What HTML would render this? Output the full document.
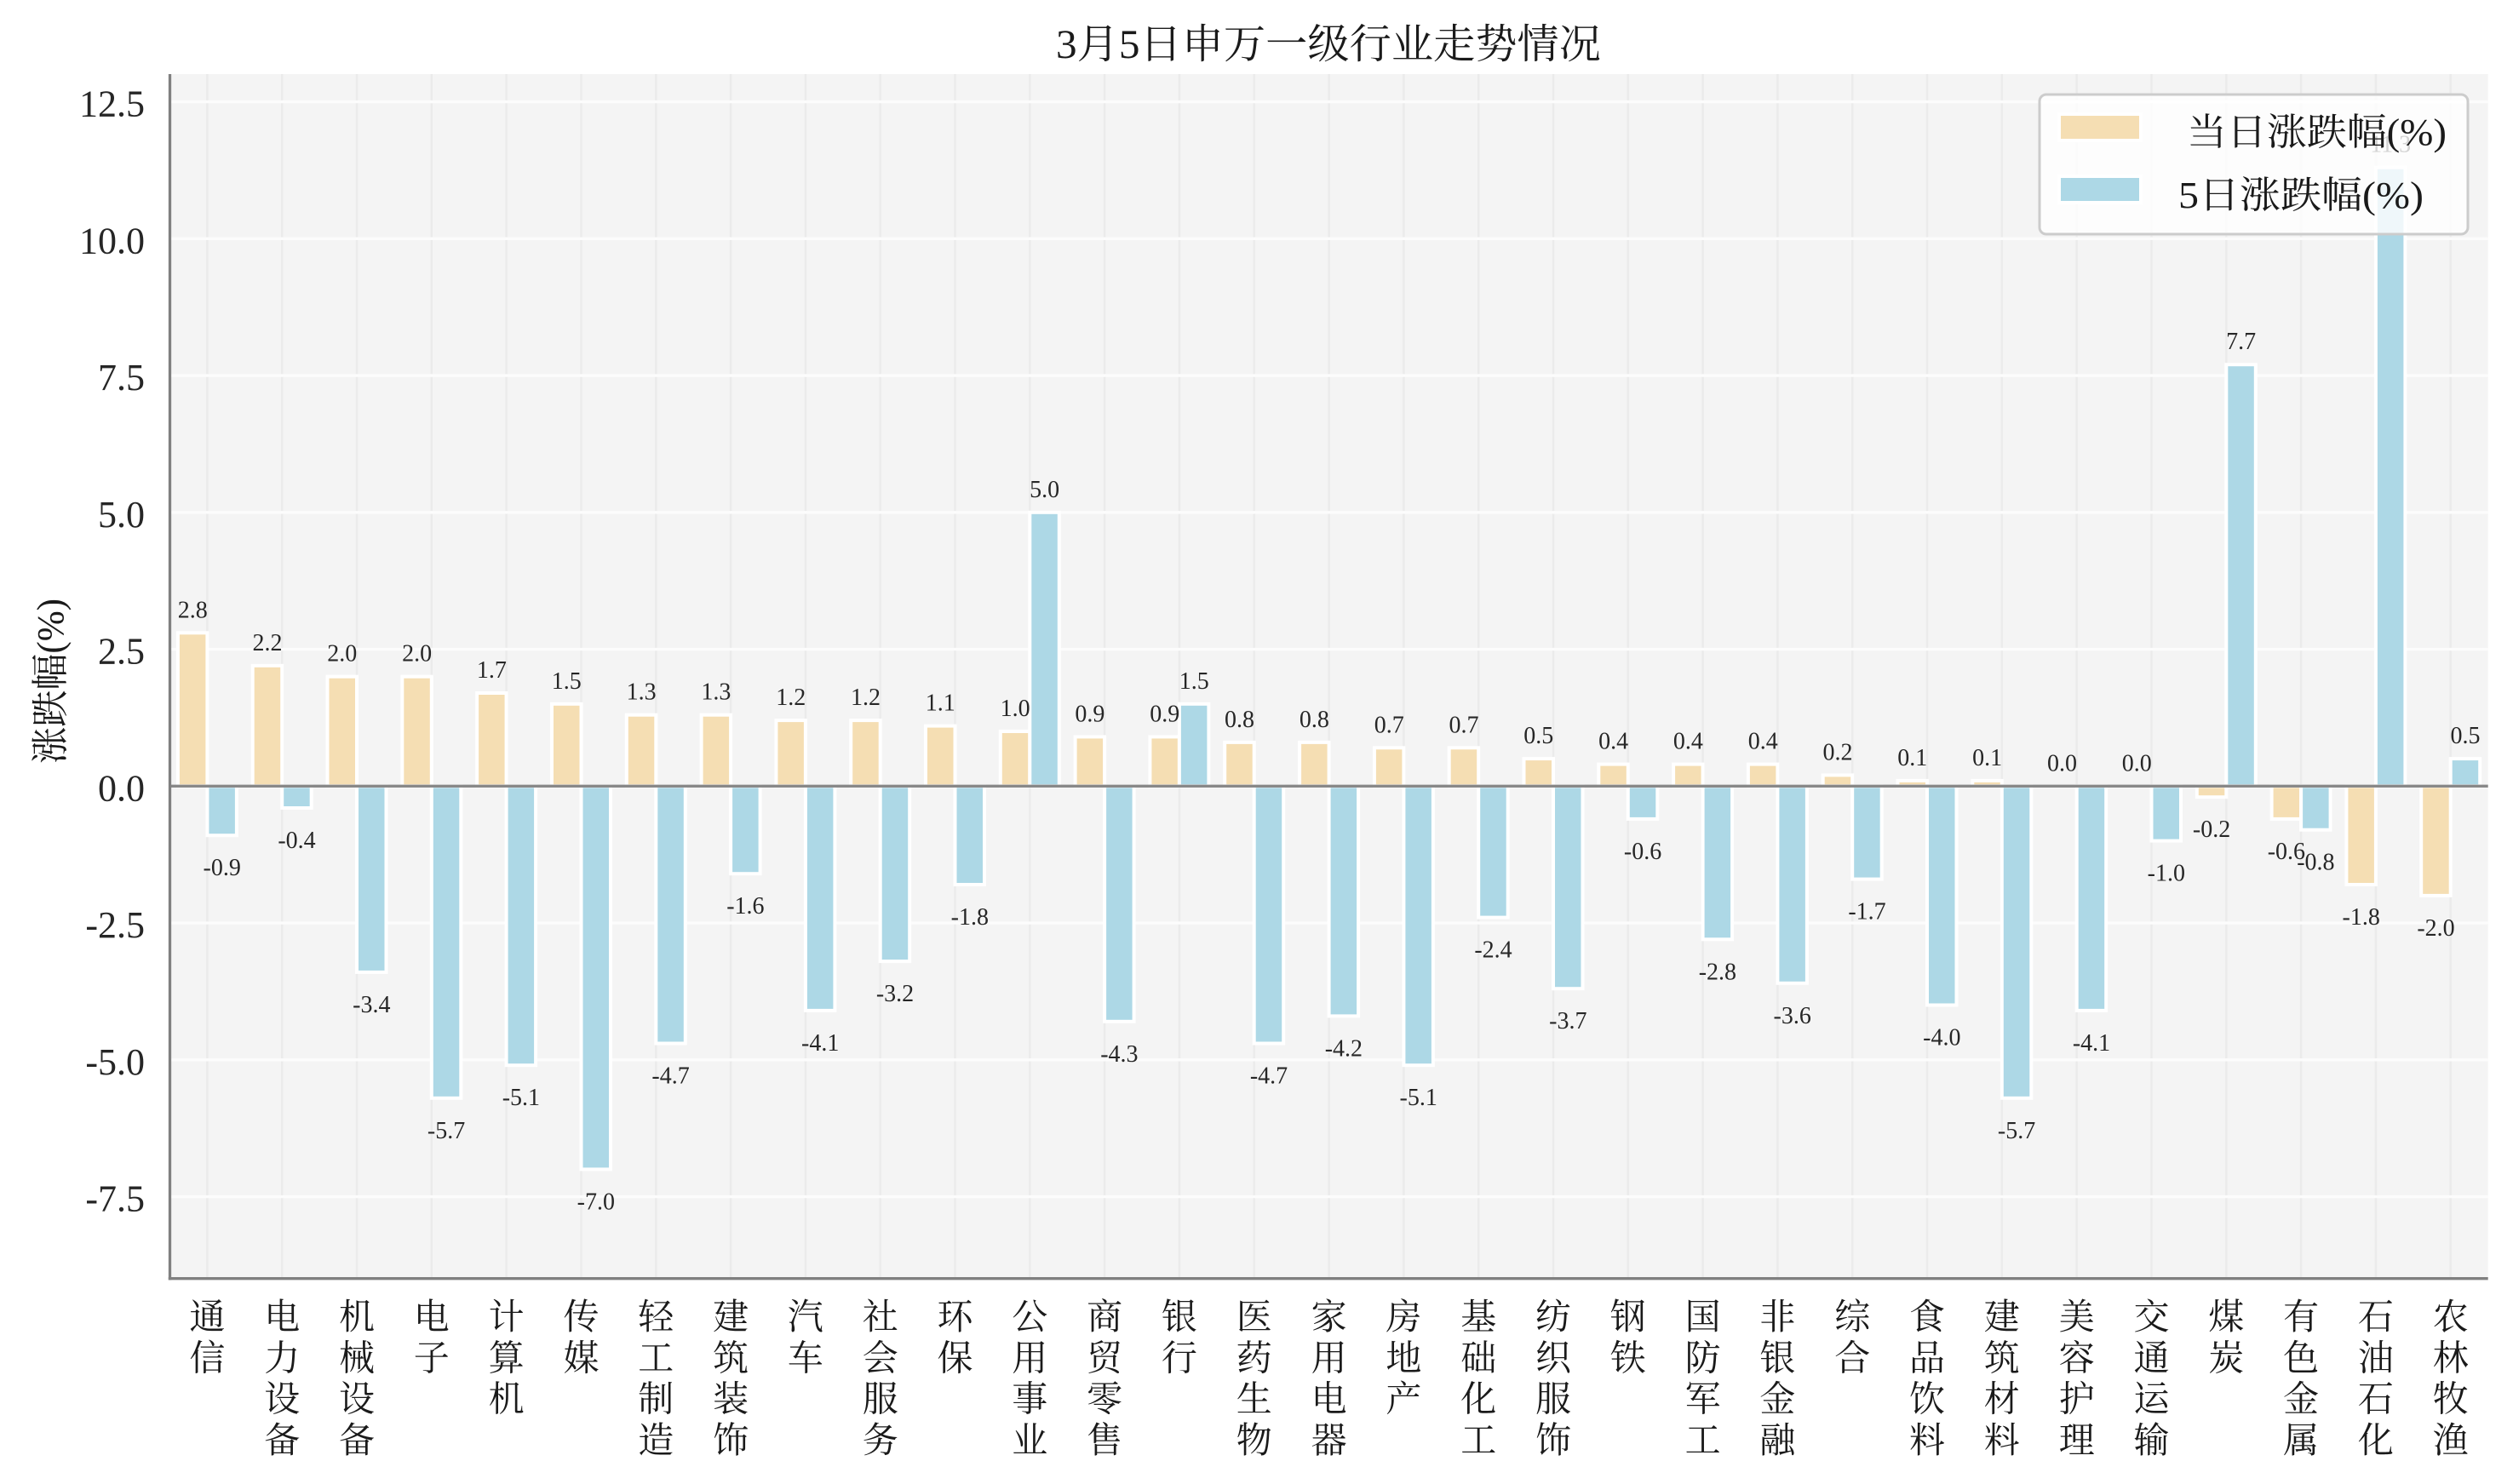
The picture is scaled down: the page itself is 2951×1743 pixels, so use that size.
<!DOCTYPE html>
<html>
<head>
<meta charset="utf-8">
<style>
html,body{margin:0;padding:0;background:#fff;}
svg{display:block;}
.vl{font-family:"Liberation Serif","Noto Serif CJK SC",serif;font-size:28px;fill:#262626;text-anchor:middle;}
.yt{font-family:"Liberation Serif",serif;font-size:44px;fill:#262626;text-anchor:end;}
.xl{font-family:"Liberation Serif","Noto Serif CJK SC",serif;font-size:42px;fill:#1a1a1a;text-anchor:middle;}
.cj{font-family:"Liberation Serif","Noto Serif CJK SC",serif;fill:#1a1a1a;}
</style>
</head>
<body>
<svg width="2951" height="1743" viewBox="0 0 2951 1743" xmlns="http://www.w3.org/2000/svg">
<rect x="0" y="0" width="2951" height="1743" fill="#ffffff"/>
<!-- axes background -->
<rect x="199.5" y="87" width="2722.2" height="1414.7" fill="#f4f4f4"/>
<!-- vertical grid -->
<g stroke="#ebebeb" stroke-width="2.5">
<line x1="243.4" y1="87" x2="243.4" y2="1501.7"/>
<line x1="331.2" y1="87" x2="331.2" y2="1501.7"/>
<line x1="419.0" y1="87" x2="419.0" y2="1501.7"/>
<line x1="506.8" y1="87" x2="506.8" y2="1501.7"/>
<line x1="594.6" y1="87" x2="594.6" y2="1501.7"/>
<line x1="682.5" y1="87" x2="682.5" y2="1501.7"/>
<line x1="770.3" y1="87" x2="770.3" y2="1501.7"/>
<line x1="858.1" y1="87" x2="858.1" y2="1501.7"/>
<line x1="945.9" y1="87" x2="945.9" y2="1501.7"/>
<line x1="1033.7" y1="87" x2="1033.7" y2="1501.7"/>
<line x1="1121.5" y1="87" x2="1121.5" y2="1501.7"/>
<line x1="1209.3" y1="87" x2="1209.3" y2="1501.7"/>
<line x1="1297.1" y1="87" x2="1297.1" y2="1501.7"/>
<line x1="1384.9" y1="87" x2="1384.9" y2="1501.7"/>
<line x1="1472.7" y1="87" x2="1472.7" y2="1501.7"/>
<line x1="1560.6" y1="87" x2="1560.6" y2="1501.7"/>
<line x1="1648.4" y1="87" x2="1648.4" y2="1501.7"/>
<line x1="1736.2" y1="87" x2="1736.2" y2="1501.7"/>
<line x1="1824.0" y1="87" x2="1824.0" y2="1501.7"/>
<line x1="1911.8" y1="87" x2="1911.8" y2="1501.7"/>
<line x1="1999.6" y1="87" x2="1999.6" y2="1501.7"/>
<line x1="2087.4" y1="87" x2="2087.4" y2="1501.7"/>
<line x1="2175.2" y1="87" x2="2175.2" y2="1501.7"/>
<line x1="2263.0" y1="87" x2="2263.0" y2="1501.7"/>
<line x1="2350.8" y1="87" x2="2350.8" y2="1501.7"/>
<line x1="2438.7" y1="87" x2="2438.7" y2="1501.7"/>
<line x1="2526.5" y1="87" x2="2526.5" y2="1501.7"/>
<line x1="2614.3" y1="87" x2="2614.3" y2="1501.7"/>
<line x1="2702.1" y1="87" x2="2702.1" y2="1501.7"/>
<line x1="2789.9" y1="87" x2="2789.9" y2="1501.7"/>
<line x1="2877.7" y1="87" x2="2877.7" y2="1501.7"/>
</g>
<!-- horizontal grid -->
<g stroke="#fcfcfc" stroke-width="3.3">
<line x1="199.5" y1="119.55" x2="2921.7" y2="119.55"/>
<line x1="199.5" y1="280.3" x2="2921.7" y2="280.3"/>
<line x1="199.5" y1="441.05" x2="2921.7" y2="441.05"/>
<line x1="199.5" y1="601.8" x2="2921.7" y2="601.8"/>
<line x1="199.5" y1="762.55" x2="2921.7" y2="762.55"/>
<line x1="199.5" y1="923.3" x2="2921.7" y2="923.3"/>
<line x1="199.5" y1="1084.05" x2="2921.7" y2="1084.05"/>
<line x1="199.5" y1="1244.8" x2="2921.7" y2="1244.8"/>
<line x1="199.5" y1="1405.55" x2="2921.7" y2="1405.55"/>
</g>
<!-- yellow bars (当日) -->
<g fill="#f5deb3" stroke="#ffffff" stroke-width="4">
<rect x="208.9" y="743.3" width="34.5" height="180.0"/>
<rect x="296.7" y="781.8" width="34.5" height="141.5"/>
<rect x="384.5" y="794.7" width="34.5" height="128.6"/>
<rect x="472.3" y="794.7" width="34.5" height="128.6"/>
<rect x="560.1" y="814.0" width="34.5" height="109.3"/>
<rect x="648.0" y="826.8" width="34.5" height="96.5"/>
<rect x="735.8" y="839.7" width="34.5" height="83.6"/>
<rect x="823.6" y="839.7" width="34.5" height="83.6"/>
<rect x="911.4" y="846.1" width="34.5" height="77.2"/>
<rect x="999.2" y="846.1" width="34.5" height="77.2"/>
<rect x="1087.0" y="852.6" width="34.5" height="70.7"/>
<rect x="1174.8" y="859.0" width="34.5" height="64.3"/>
<rect x="1262.6" y="865.4" width="34.5" height="57.9"/>
<rect x="1350.4" y="865.4" width="34.5" height="57.9"/>
<rect x="1438.2" y="871.9" width="34.5" height="51.4"/>
<rect x="1526.1" y="871.9" width="34.5" height="51.4"/>
<rect x="1613.9" y="878.3" width="34.5" height="45.0"/>
<rect x="1701.7" y="878.3" width="34.5" height="45.0"/>
<rect x="1789.5" y="891.1" width="34.5" height="32.2"/>
<rect x="1877.3" y="897.6" width="34.5" height="25.7"/>
<rect x="1965.1" y="897.6" width="34.5" height="25.7"/>
<rect x="2052.9" y="897.6" width="34.5" height="25.7"/>
<rect x="2140.7" y="910.4" width="34.5" height="12.9"/>
<rect x="2228.5" y="916.9" width="34.5" height="6.4"/>
<rect x="2316.3" y="916.9" width="34.5" height="6.4"/>
<rect x="2579.8" y="923.3" width="34.5" height="12.9"/>
<rect x="2667.6" y="923.3" width="34.5" height="38.6"/>
<rect x="2755.4" y="923.3" width="34.5" height="115.7"/>
<rect x="2843.2" y="923.3" width="34.5" height="128.6"/>
</g>
<!-- blue bars (5日) -->
<g fill="#add8e6" stroke="#ffffff" stroke-width="4">
<rect x="243.4" y="923.3" width="34.5" height="57.9"/>
<rect x="331.2" y="923.3" width="34.5" height="25.7"/>
<rect x="419.0" y="923.3" width="34.5" height="218.6"/>
<rect x="506.8" y="923.3" width="34.5" height="366.5"/>
<rect x="594.6" y="923.3" width="34.5" height="327.9"/>
<rect x="682.5" y="923.3" width="34.5" height="450.1"/>
<rect x="770.3" y="923.3" width="34.5" height="302.2"/>
<rect x="858.1" y="923.3" width="34.5" height="102.9"/>
<rect x="945.9" y="923.3" width="34.5" height="263.6"/>
<rect x="1033.7" y="923.3" width="34.5" height="205.8"/>
<rect x="1121.5" y="923.3" width="34.5" height="115.7"/>
<rect x="1209.3" y="601.8" width="34.5" height="321.5"/>
<rect x="1297.1" y="923.3" width="34.5" height="276.5"/>
<rect x="1384.9" y="826.8" width="34.5" height="96.5"/>
<rect x="1472.7" y="923.3" width="34.5" height="302.2"/>
<rect x="1560.6" y="923.3" width="34.5" height="270.1"/>
<rect x="1648.4" y="923.3" width="34.5" height="327.9"/>
<rect x="1736.2" y="923.3" width="34.5" height="154.3"/>
<rect x="1824.0" y="923.3" width="34.5" height="237.9"/>
<rect x="1911.8" y="923.3" width="34.5" height="38.6"/>
<rect x="1999.6" y="923.3" width="34.5" height="180.0"/>
<rect x="2087.4" y="923.3" width="34.5" height="231.5"/>
<rect x="2175.2" y="923.3" width="34.5" height="109.3"/>
<rect x="2263.0" y="923.3" width="34.5" height="257.2"/>
<rect x="2350.8" y="923.3" width="34.5" height="366.5"/>
<rect x="2438.7" y="923.3" width="34.5" height="263.6"/>
<rect x="2526.5" y="923.3" width="34.5" height="64.3"/>
<rect x="2614.3" y="428.2" width="34.5" height="495.1"/>
<rect x="2702.1" y="923.3" width="34.5" height="51.4"/>
<rect x="2789.9" y="196.7" width="34.5" height="726.6"/>
<rect x="2877.7" y="891.1" width="34.5" height="32.2"/>
</g>
<!-- zero line -->
<line x1="199.5" y1="923.3" x2="2921.7" y2="923.3" stroke="#888888" stroke-width="3.3"/>
<!-- spines -->
<line x1="199.5" y1="87" x2="199.5" y2="1503.4" stroke="#808080" stroke-width="3.3"/>
<line x1="197.8" y1="1501.7" x2="2921.7" y2="1501.7" stroke="#808080" stroke-width="3.3"/>
<!-- yellow value labels -->
<g class="vl">
<text x="226.2" y="725.3">2.8</text>
<text x="314.0" y="763.8">2.2</text>
<text x="401.8" y="776.7">2.0</text>
<text x="489.6" y="776.7">2.0</text>
<text x="577.4" y="796.0">1.7</text>
<text x="665.3" y="808.8">1.5</text>
<text x="753.1" y="821.7">1.3</text>
<text x="840.9" y="821.7">1.3</text>
<text x="928.7" y="828.1">1.2</text>
<text x="1016.5" y="828.1">1.2</text>
<text x="1104.3" y="834.6">1.1</text>
<text x="1192.1" y="841.0">1.0</text>
<text x="1279.9" y="847.4">0.9</text>
<text x="1367.7" y="847.4">0.9</text>
<text x="1455.5" y="853.9">0.8</text>
<text x="1543.4" y="853.9">0.8</text>
<text x="1631.2" y="860.3">0.7</text>
<text x="1719.0" y="860.3">0.7</text>
<text x="1806.8" y="873.1">0.5</text>
<text x="1894.6" y="879.6">0.4</text>
<text x="1982.4" y="879.6">0.4</text>
<text x="2070.2" y="879.6">0.4</text>
<text x="2158.0" y="892.4">0.2</text>
<text x="2245.8" y="898.9">0.1</text>
<text x="2333.6" y="898.9">0.1</text>
<text x="2421.5" y="905.3">0.0</text>
<text x="2509.3" y="905.3">0.0</text>
<text x="2597.1" y="983.2">-0.2</text>
<text x="2684.9" y="1008.9">-0.6</text>
<text x="2772.7" y="1086.0">-1.8</text>
<text x="2860.5" y="1098.9">-2.0</text>
</g>
<!-- blue value labels -->
<g class="vl">
<text x="260.7" y="1028.2">-0.9</text>
<text x="348.5" y="996.0">-0.4</text>
<text x="436.3" y="1188.9">-3.4</text>
<text x="524.1" y="1336.8">-5.7</text>
<text x="611.9" y="1298.2">-5.1</text>
<text x="699.8" y="1420.4">-7.0</text>
<text x="787.6" y="1272.5">-4.7</text>
<text x="875.4" y="1073.2">-1.6</text>
<text x="963.2" y="1233.9">-4.1</text>
<text x="1051.0" y="1176.1">-3.2</text>
<text x="1138.8" y="1086.0">-1.8</text>
<text x="1226.6" y="583.8">5.0</text>
<text x="1314.4" y="1246.8">-4.3</text>
<text x="1402.2" y="808.8">1.5</text>
<text x="1490.0" y="1272.5">-4.7</text>
<text x="1577.9" y="1240.4">-4.2</text>
<text x="1665.7" y="1298.2">-5.1</text>
<text x="1753.5" y="1124.6">-2.4</text>
<text x="1841.3" y="1208.2">-3.7</text>
<text x="1929.1" y="1008.9">-0.6</text>
<text x="2016.9" y="1150.3">-2.8</text>
<text x="2104.7" y="1201.8">-3.6</text>
<text x="2192.5" y="1079.6">-1.7</text>
<text x="2280.3" y="1227.5">-4.0</text>
<text x="2368.1" y="1336.8">-5.7</text>
<text x="2456.0" y="1233.9">-4.1</text>
<text x="2543.8" y="1034.6">-1.0</text>
<text x="2631.6" y="410.2">7.7</text>
<text x="2719.4" y="1021.7">-0.8</text>
<text x="2807.2" y="178.7">11.3</text>
<text x="2895.0" y="873.1">0.5</text>
</g>
<!-- legend -->
<rect x="2395" y="111" width="503" height="164" rx="8" ry="8" fill="#ffffff" fill-opacity="0.8" stroke="#cccccc" stroke-width="3"/>
<rect x="2418" y="134" width="96" height="31" fill="#f5deb3" stroke="#ffffff" stroke-width="4"/>
<rect x="2418" y="207" width="96" height="31" fill="#add8e6" stroke="#ffffff" stroke-width="4"/>
<text class="cj" x="2568" y="170" font-size="44" textLength="305" lengthAdjust="spacingAndGlyphs">当日涨跌幅(%)</text>
<text class="cj" x="2558" y="244" font-size="44" textLength="288" lengthAdjust="spacingAndGlyphs">5日涨跌幅(%)</text>
<!-- y tick labels -->
<g class="yt">
<text x="170" y="136.5">12.5</text>
<text x="170" y="297.3">10.0</text>
<text x="170" y="458.0">7.5</text>
<text x="170" y="618.8">5.0</text>
<text x="170" y="779.5">2.5</text>
<text x="170" y="940.3">0.0</text>
<text x="170" y="1101.0">-2.5</text>
<text x="170" y="1261.8">-5.0</text>
<text x="170" y="1422.5">-7.5</text>
</g>
<!-- y axis label -->
<text class="cj" transform="translate(74,800) rotate(-90)" x="0" y="0" font-size="44" text-anchor="middle" textLength="194" lengthAdjust="spacingAndGlyphs">涨跌幅(%)</text>
<!-- title -->
<text class="cj" x="1240" y="68" font-size="48" textLength="640" lengthAdjust="spacingAndGlyphs">3月5日申万一级行业走势情况</text>
<!-- x tick labels (vertical) -->
<g class="xl">
<text><tspan x="243.4" y="1561">通</tspan><tspan x="243.4" y="1609.3">信</tspan></text>
<text><tspan x="331.2" y="1561">电</tspan><tspan x="331.2" y="1609.3">力</tspan><tspan x="331.2" y="1657.6">设</tspan><tspan x="331.2" y="1705.9">备</tspan></text>
<text><tspan x="419.0" y="1561">机</tspan><tspan x="419.0" y="1609.3">械</tspan><tspan x="419.0" y="1657.6">设</tspan><tspan x="419.0" y="1705.9">备</tspan></text>
<text><tspan x="506.8" y="1561">电</tspan><tspan x="506.8" y="1609.3">子</tspan></text>
<text><tspan x="594.6" y="1561">计</tspan><tspan x="594.6" y="1609.3">算</tspan><tspan x="594.6" y="1657.6">机</tspan></text>
<text><tspan x="682.5" y="1561">传</tspan><tspan x="682.5" y="1609.3">媒</tspan></text>
<text><tspan x="770.3" y="1561">轻</tspan><tspan x="770.3" y="1609.3">工</tspan><tspan x="770.3" y="1657.6">制</tspan><tspan x="770.3" y="1705.9">造</tspan></text>
<text><tspan x="858.1" y="1561">建</tspan><tspan x="858.1" y="1609.3">筑</tspan><tspan x="858.1" y="1657.6">装</tspan><tspan x="858.1" y="1705.9">饰</tspan></text>
<text><tspan x="945.9" y="1561">汽</tspan><tspan x="945.9" y="1609.3">车</tspan></text>
<text><tspan x="1033.7" y="1561">社</tspan><tspan x="1033.7" y="1609.3">会</tspan><tspan x="1033.7" y="1657.6">服</tspan><tspan x="1033.7" y="1705.9">务</tspan></text>
<text><tspan x="1121.5" y="1561">环</tspan><tspan x="1121.5" y="1609.3">保</tspan></text>
<text><tspan x="1209.3" y="1561">公</tspan><tspan x="1209.3" y="1609.3">用</tspan><tspan x="1209.3" y="1657.6">事</tspan><tspan x="1209.3" y="1705.9">业</tspan></text>
<text><tspan x="1297.1" y="1561">商</tspan><tspan x="1297.1" y="1609.3">贸</tspan><tspan x="1297.1" y="1657.6">零</tspan><tspan x="1297.1" y="1705.9">售</tspan></text>
<text><tspan x="1384.9" y="1561">银</tspan><tspan x="1384.9" y="1609.3">行</tspan></text>
<text><tspan x="1472.7" y="1561">医</tspan><tspan x="1472.7" y="1609.3">药</tspan><tspan x="1472.7" y="1657.6">生</tspan><tspan x="1472.7" y="1705.9">物</tspan></text>
<text><tspan x="1560.6" y="1561">家</tspan><tspan x="1560.6" y="1609.3">用</tspan><tspan x="1560.6" y="1657.6">电</tspan><tspan x="1560.6" y="1705.9">器</tspan></text>
<text><tspan x="1648.4" y="1561">房</tspan><tspan x="1648.4" y="1609.3">地</tspan><tspan x="1648.4" y="1657.6">产</tspan></text>
<text><tspan x="1736.2" y="1561">基</tspan><tspan x="1736.2" y="1609.3">础</tspan><tspan x="1736.2" y="1657.6">化</tspan><tspan x="1736.2" y="1705.9">工</tspan></text>
<text><tspan x="1824.0" y="1561">纺</tspan><tspan x="1824.0" y="1609.3">织</tspan><tspan x="1824.0" y="1657.6">服</tspan><tspan x="1824.0" y="1705.9">饰</tspan></text>
<text><tspan x="1911.8" y="1561">钢</tspan><tspan x="1911.8" y="1609.3">铁</tspan></text>
<text><tspan x="1999.6" y="1561">国</tspan><tspan x="1999.6" y="1609.3">防</tspan><tspan x="1999.6" y="1657.6">军</tspan><tspan x="1999.6" y="1705.9">工</tspan></text>
<text><tspan x="2087.4" y="1561">非</tspan><tspan x="2087.4" y="1609.3">银</tspan><tspan x="2087.4" y="1657.6">金</tspan><tspan x="2087.4" y="1705.9">融</tspan></text>
<text><tspan x="2175.2" y="1561">综</tspan><tspan x="2175.2" y="1609.3">合</tspan></text>
<text><tspan x="2263.0" y="1561">食</tspan><tspan x="2263.0" y="1609.3">品</tspan><tspan x="2263.0" y="1657.6">饮</tspan><tspan x="2263.0" y="1705.9">料</tspan></text>
<text><tspan x="2350.8" y="1561">建</tspan><tspan x="2350.8" y="1609.3">筑</tspan><tspan x="2350.8" y="1657.6">材</tspan><tspan x="2350.8" y="1705.9">料</tspan></text>
<text><tspan x="2438.7" y="1561">美</tspan><tspan x="2438.7" y="1609.3">容</tspan><tspan x="2438.7" y="1657.6">护</tspan><tspan x="2438.7" y="1705.9">理</tspan></text>
<text><tspan x="2526.5" y="1561">交</tspan><tspan x="2526.5" y="1609.3">通</tspan><tspan x="2526.5" y="1657.6">运</tspan><tspan x="2526.5" y="1705.9">输</tspan></text>
<text><tspan x="2614.3" y="1561">煤</tspan><tspan x="2614.3" y="1609.3">炭</tspan></text>
<text><tspan x="2702.1" y="1561">有</tspan><tspan x="2702.1" y="1609.3">色</tspan><tspan x="2702.1" y="1657.6">金</tspan><tspan x="2702.1" y="1705.9">属</tspan></text>
<text><tspan x="2789.9" y="1561">石</tspan><tspan x="2789.9" y="1609.3">油</tspan><tspan x="2789.9" y="1657.6">石</tspan><tspan x="2789.9" y="1705.9">化</tspan></text>
<text><tspan x="2877.7" y="1561">农</tspan><tspan x="2877.7" y="1609.3">林</tspan><tspan x="2877.7" y="1657.6">牧</tspan><tspan x="2877.7" y="1705.9">渔</tspan></text>
</g>
</svg>
</body>
</html>
